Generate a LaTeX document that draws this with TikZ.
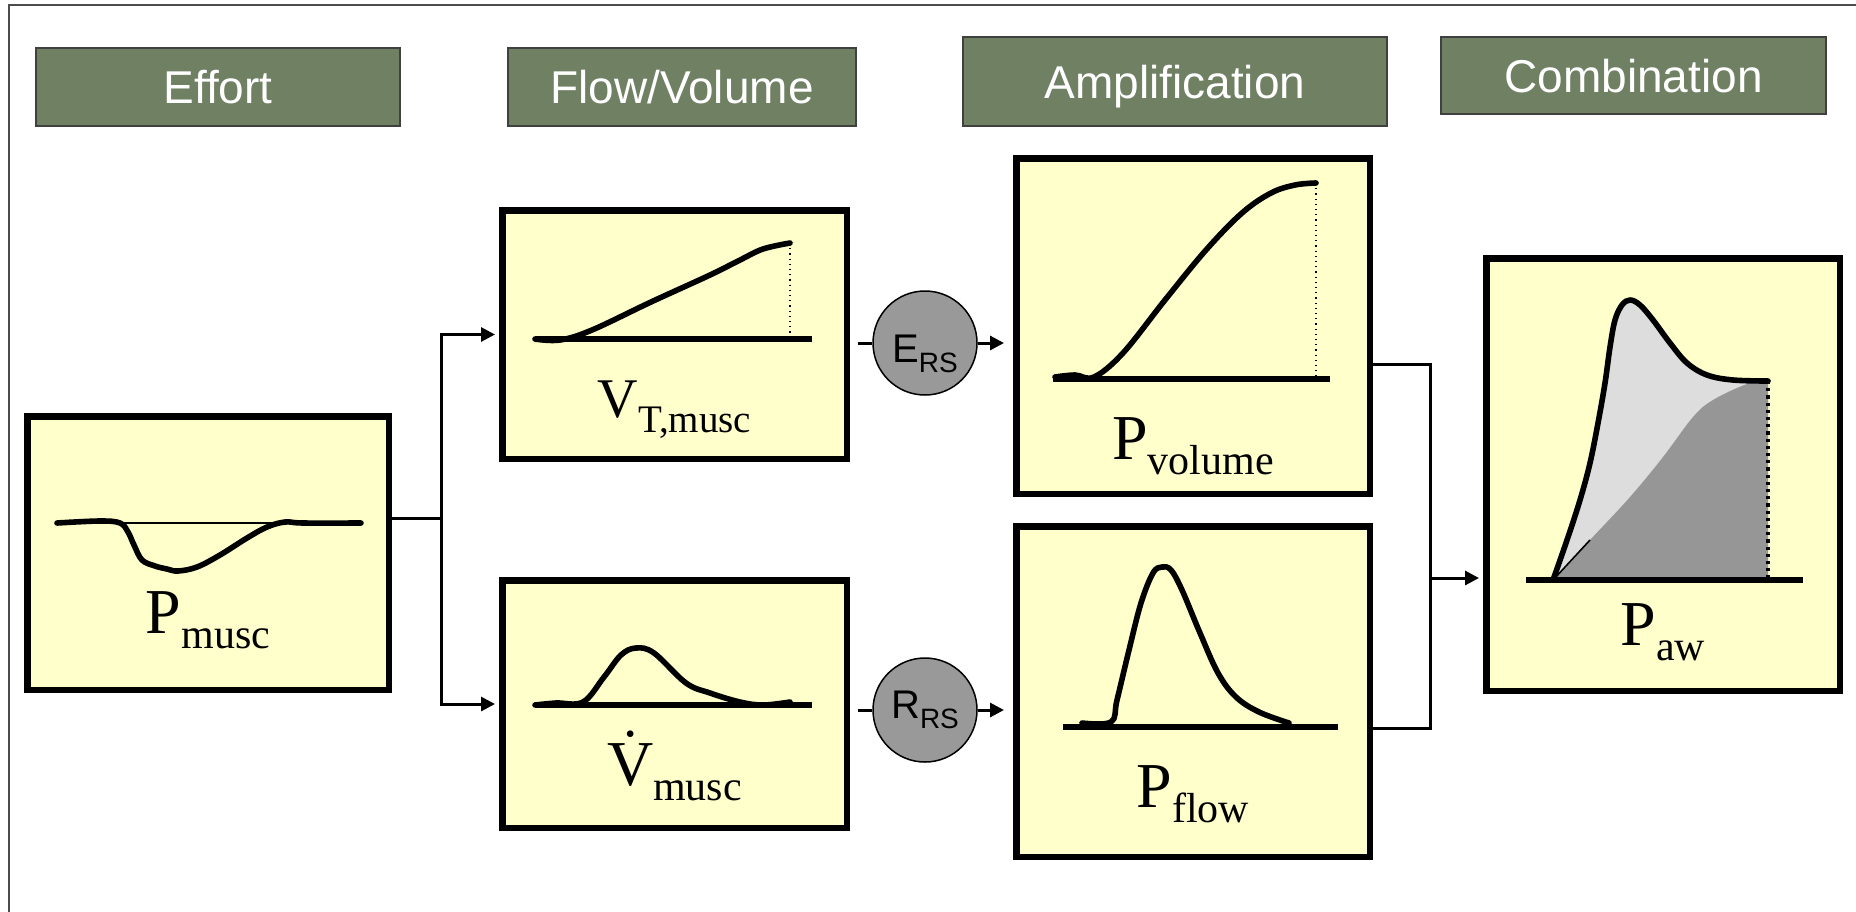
\documentclass[tikz,border=0pt]{standalone}
\usepackage{fontspec}
\setmainfont{Liberation Serif}
\newfontfamily\headfont{Liberation Sans}
\usetikzlibrary{arrows.meta}
\definecolor{headgreen}{RGB}{111,128,99}
\definecolor{panelfill}{RGB}{255,255,204}
\definecolor{lightshade}{RGB}{221,221,221}
\definecolor{darkshade}{RGB}{150,150,150}
\definecolor{gaincirc}{RGB}{153,153,153}
\newlength{\vlen}
\newcommand{\sig}[4]{{\fontsize{#1}{#1}\selectfont #3}\raisebox{-7.5pt}{\fontsize{#2}{#2}\selectfont #4}}
\newcommand{\Vdot}{\settowidth{\vlen}{V}V\llap{\makebox[\vlen]{\raisebox{21pt}{\fontsize{14}{14}\selectfont\textbullet}}}}
\newcommand{\gainsub}[2]{#1\raisebox{-5pt}{\fontsize{14}{14}\selectfont #2}}

\begin{document}
\begin{tikzpicture}[x=0.5pt,y=-0.5pt,>={Triangle[length=7pt,width=7pt]},
  head/.style={draw=black!75,line width=1pt,fill=headgreen,text=white,inner sep=0pt,
    font=\headfont\fontsize{23}{23}\selectfont,text height=16.5pt,text depth=0pt},
  panel/.style={draw,line width=3.25pt,fill=panelfill,inner sep=0pt},
  gain/.style={circle,draw,line width=0.75pt,fill=gaincirc,minimum size=52pt,inner sep=0pt,
    text depth=0pt,font=\headfont\fontsize{20}{20}\selectfont},
  wire/.style={line width=1.5pt},
  trace/.style={line width=2.8pt,line join=round,line cap=round},
  zero/.style={line width=2.8pt},
  marker/.style={dotted,line width=0.6pt},
  tag/.style={anchor=base,inner sep=0pt}]
\useasboundingbox (0,0) rectangle (1856,911);
\begin{scope}
\clip (0,0) rectangle (1856,911);
\draw[black!70,line width=1pt] (9,5) rectangle (1880,940);
\end{scope}
% stage headers
\node[head,minimum width=182pt,minimum height=39pt] (hdeffort) at (218,87) {Effort};
\node[head,minimum width=174pt,minimum height=39pt] (hdflow) at (682,87) {Flow/Volume};
\node[head,minimum width=212pt,minimum height=44.5pt] (hdamp) at (1175,81.5) {Amplification};
\node[head,minimum width=192.5pt,minimum height=38.5pt] (hdcomb) at (1633.5,75.5) {Combination};
% signal panels
\node[panel,minimum width=180.75pt,minimum height=136.75pt] (pmusc) at (208,553) {};
\node[panel,minimum width=172.25pt,minimum height=124.25pt] (vt) at (674.5,334.5) {};
\node[panel,minimum width=172.25pt,minimum height=123.75pt] (vdot) at (674.5,704) {};
\node[panel,minimum width=176.75pt,minimum height=167.75pt] (pvol) at (1193,326) {};
\node[panel,minimum width=176.75pt,minimum height=165.25pt] (pflow) at (1193,691.5) {};
\node[panel,minimum width=176.75pt,minimum height=216.25pt] (paw) at (1663,474.5) {};
\node[gain,text height=19pt] (ers) at (925,343) {\gainsub{E}{RS}};
\node[gain,text height=8pt] (rrs) at (925,710) {\gainsub{R}{RS}};
% connectors
\coordinate (split) at (441,518);
\coordinate (join) at (1430,578);
\draw[wire] (pmusc.east |- split) -- (split);
\draw[wire,->,shorten >=2pt] (split) |- (vt.west);
\draw[wire,->,shorten >=2pt] (split) |- (vdot.west);
\draw[wire,shorten <=4pt] (vt.east |- ers) -- (ers.west);
\draw[wire,->,shorten >=4.5pt] (ers.east) -- (ers.east -| pvol.west);
\draw[wire,shorten <=4pt] (vdot.east |- rrs) -- (rrs.west);
\draw[wire,->,shorten >=4.5pt] (rrs.east) -- (rrs.east -| pflow.west);
\draw[wire] (pvol.east |- 0,364) -| (join) |- (pflow.east |- 0,728);
\draw[wire,->,shorten >=2pt] (join) -- (join -| paw.west);
% P_musc
\draw[line width=0.8pt] (57,523) -- (361,523);
\draw[trace] plot[smooth,tension=0.6] coordinates {(57,523) (100,521) (120,523) (128,532) (134,545)
  (142,560) (155,566) (167,569) (178,571) (197,567) (220,555) (247,538) (267,527) (285,522) (303,523) (361,523)};
% V_T,musc
\draw[zero] (535,339) -- (812,339);
\draw[trace] plot[smooth,tension=0.6] coordinates {(535,339) (560,340) (592,330) (651,302) (710,275)
  (740,260) (763,249) (790,243)};
\draw[marker] (790,243) -- (790,339);
% flow
\draw[zero] (535,705) -- (812,705);
\draw[trace] plot[smooth,tension=0.6] coordinates {(535,705) (556,703) (583,702) (604,677) (621,655)
  (636,648) (654,653) (686,683) (710,693) (740,702) (763,705) (790,702)};
% P_volume
\draw[zero] (1053,379) -- (1330,379);
\draw[trace] plot[smooth,tension=0.6] coordinates {(1055,377) (1075,375) (1094,377) (1123,353) (1165,300)
  (1206,250) (1242,213) (1271,193) (1295,185) (1316,183)};
\draw[marker] (1316,183) -- (1316,379);
% P_flow
\draw[zero] (1063,727) -- (1338,727);
\draw[trace] plot[smooth,tension=0.6] coordinates {(1082,723) (1111,722) (1117,700) (1129,650) (1141,603)
  (1153,573) (1162,567) (1171,570) (1182,590) (1200,633) (1218,673) (1236,697) (1259,712) (1289,723)};
% P_aw
\fill[lightshade] plot[smooth,tension=0.6] coordinates {(1553,580) (1567,540) (1580,500) (1590,463)
  (1598,423) (1605,383) (1610,347) (1615,320) (1622,305) (1630,300) (1640,305) (1653,320) (1670,343)
  (1687,363) (1707,375) (1733,380) (1768,381)} -- (1768,580) -- cycle;
\fill[darkshade] plot[smooth,tension=0.6] coordinates {(1553,580) (1590,540) (1630,497) (1663,457)
  (1693,417) (1713,400) (1747,384) (1768,381)} -- (1768,580) -- cycle;
\draw[line width=0.8pt] (1553,580) -- (1590,540);
\draw[zero] (1526,580) -- (1803,580);
\draw[trace] plot[smooth,tension=0.6] coordinates {(1553,580) (1567,540) (1580,500) (1590,463)
  (1598,423) (1605,383) (1610,347) (1615,320) (1622,305) (1630,300) (1640,305) (1653,320) (1670,343)
  (1687,363) (1707,375) (1733,380) (1768,381)};
\draw[dotted,line width=1.6pt] (1768,381) -- (1768,580);
% labels
\node[tag] (pmusclbl) at (208,633) {\sig{32}{21}{P}{musc}};
\node[tag] (vtlbl) at (674.5,417) {\sig{28}{19.5}{V}{T,musc}};
\node[tag] (vdotlbl) at (674.5,785) {\sig{32}{21}{\Vdot}{musc}};
\node[tag] (pvollbl) at (1193,459) {\sig{32}{21}{P}{volume}};
\node[tag] (pflowlbl) at (1193,807) {\sig{32}{21}{P}{flow}};
\node[tag] (pawlbl) at (1663,645) {\sig{32}{21}{P}{aw}};
\end{tikzpicture}
\end{document}
